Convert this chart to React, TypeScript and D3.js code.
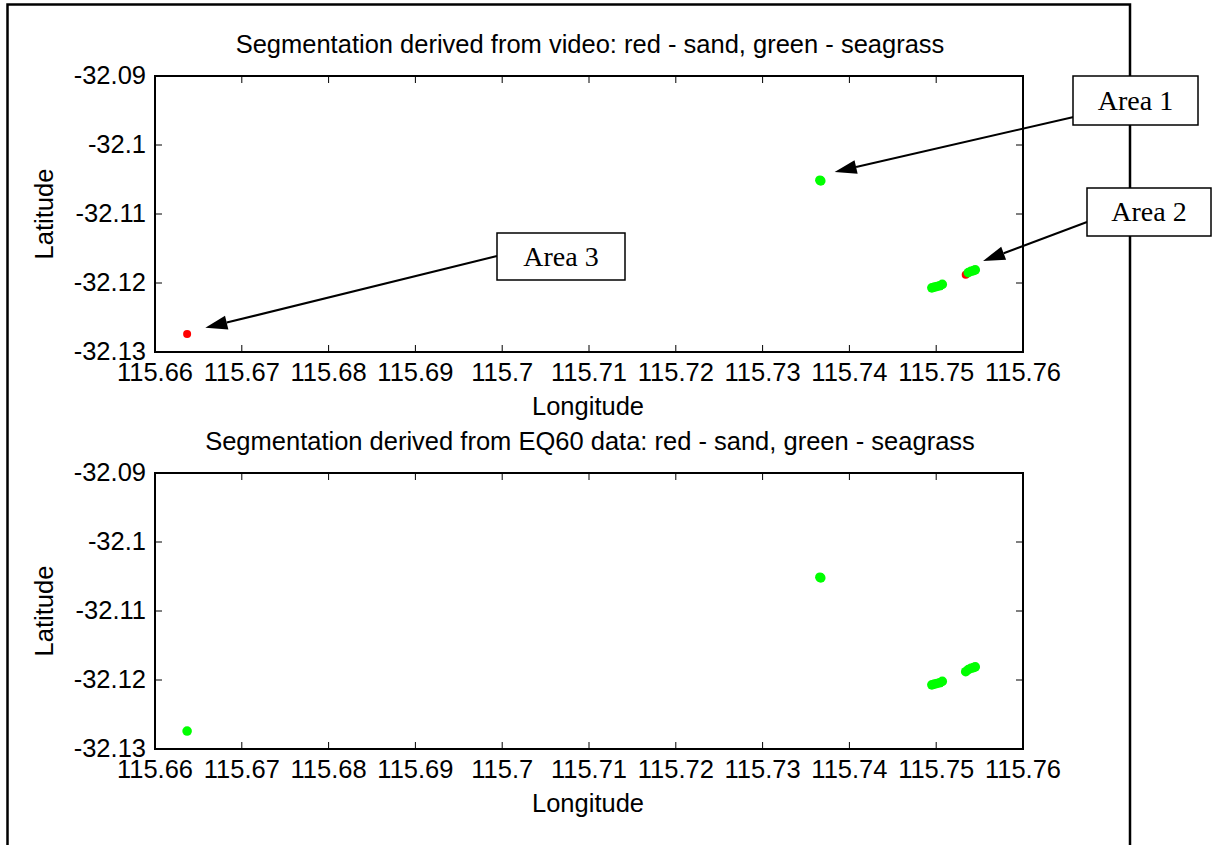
import React from "react";
import * as d3 from "d3";

// Longitude / latitude of classified survey points
const videoSand: [number, number][] = [
  [115.6637, -32.1274],
  [115.7534, -32.1188],
];
const videoSeagrass: [number, number][] = [
  [115.7366, -32.1051],
  [115.7367, -32.1052],
  [115.7495, -32.1207],
  [115.7498, -32.1206],
  [115.7501, -32.1205],
  [115.7504, -32.1204],
  [115.7507, -32.1202],
  [115.7537, -32.1185],
  [115.754, -32.1183],
  [115.7543, -32.1182],
  [115.7545, -32.1181],
];
const eqSand: [number, number][] = [];
const eqSeagrass: [number, number][] = [
  [115.6637, -32.1274],
  [115.7366, -32.1051],
  [115.7367, -32.1052],
  [115.7495, -32.1207],
  [115.7498, -32.1206],
  [115.7501, -32.1205],
  [115.7504, -32.1204],
  [115.7507, -32.1202],
  [115.7534, -32.1188],
  [115.7537, -32.1185],
  [115.754, -32.1183],
  [115.7543, -32.1182],
  [115.7545, -32.1181],
];

const lonTicks = [115.66, 115.67, 115.68, 115.69, 115.7, 115.71, 115.72, 115.73, 115.74, 115.75, 115.76];
const latTicks = [-32.09, -32.1, -32.11, -32.12, -32.13];

const titles = [
  "Segmentation derived from video: red - sand, green - seagrass",
  "Segmentation derived from EQ60 data: red - sand, green - seagrass",
];

// Callouts: label, box (x, y, w, h), tail point, head in data coords
const callouts = [
  { label: "Area 1", box: [1073, 76, 125, 49], tail: [1078, 116], head: [115.7383, -32.1039] },
  { label: "Area 2", box: [1087, 188, 124, 48], tail: [1087, 222], head: [115.7554, -32.1168] },
  { label: "Area 3", box: [497, 233, 128, 47], tail: [497, 256], head: [115.6658, -32.1265] },
];

const W = 1215;
const H = 845;
const left = 155;
const right = 1023;
const panelTops = [76, 473];
const panelH = 276;

const x = d3.scaleLinear().domain([115.66, 115.76]).range([left, right]);

const font = "Arial, 'Liberation Sans', sans-serif";
const tickFont = 25.5;
const labelFont = 25.5;

function Panel({ top, title, sand, grass }: { top: number; title: string; sand: [number, number][]; grass: [number, number][] }) {
  const y = d3.scaleLinear().domain([-32.13, -32.09]).range([top + panelH, top]);
  const bottom = top + panelH;
  const tl = 7;
  return (
    <g>
      <text x={(left + right) / 2 + 1} y={top - 23} textAnchor="middle" fontFamily={font} fontSize={labelFont}>
        {title}
      </text>
      <rect x={left} y={top} width={right - left} height={panelH} fill="white" stroke="none" />
      {lonTicks.map((t) => (
        <g key={"x" + t}>
          <line x1={x(t)} x2={x(t)} y1={bottom} y2={bottom - tl} stroke="#000" strokeWidth={1} />
          <line x1={x(t)} x2={x(t)} y1={top} y2={top + tl} stroke="#000" strokeWidth={1} />
          <text x={x(t)} y={bottom + 29} textAnchor="middle" fontFamily={font} fontSize={tickFont}>
            {String(t)}
          </text>
        </g>
      ))}
      {latTicks.map((t) => (
        <g key={"y" + t}>
          <line x1={left} x2={left + tl} y1={y(t)} y2={y(t)} stroke="#000" strokeWidth={1} />
          <line x1={right} x2={right - tl} y1={y(t)} y2={y(t)} stroke="#000" strokeWidth={1} />
          <text x={left - 9} y={y(t) + 8} textAnchor="end" fontFamily={font} fontSize={tickFont}>
            {String(t)}
          </text>
        </g>
      ))}
      <rect x={left} y={top} width={right - left} height={panelH} fill="none" stroke="#000" strokeWidth={2} />
      {sand.map((d, i) => (
        <circle key={"s" + i} cx={x(d[0])} cy={y(d[1])} r={4} fill="#ff0000" />
      ))}
      {grass.map((d, i) => (
        <circle key={"g" + i} cx={x(d[0])} cy={y(d[1])} r={4.8} fill="#00ff00" />
      ))}
      <text x={(left + right) / 2 - 1} y={bottom + 63} textAnchor="middle" fontFamily={font} fontSize={labelFont}>
        Longitude
      </text>
      <text
        transform={`translate(53, ${top + panelH / 2}) rotate(-90)`}
        textAnchor="middle"
        fontFamily={font}
        fontSize={labelFont}
      >
        Latitude
      </text>
    </g>
  );
}

function Arrow({ x1, y1, x2, y2 }: { x1: number; y1: number; x2: number; y2: number }) {
  const ang = Math.atan2(y2 - y1, x2 - x1);
  const len = 22;
  const half = 7;
  const bx = x2 - len * Math.cos(ang);
  const by = y2 - len * Math.sin(ang);
  const px = -Math.sin(ang) * half;
  const py = Math.cos(ang) * half;
  return (
    <g>
      <line x1={x1} y1={y1} x2={bx} y2={by} stroke="#000" strokeWidth={2} />
      <polygon points={`${x2},${y2} ${bx + px},${by + py} ${bx - px},${by - py}`} fill="#000" />
    </g>
  );
}

export default function App() {
  const yTop = d3.scaleLinear().domain([-32.13, -32.09]).range([panelTops[0] + panelH, panelTops[0]]);
  return (
    <svg width={W} height={H} style={{ position: "absolute", left: 0, top: 0, background: "#fff" }}>
      <rect x={0} y={0} width={W} height={H} fill="#fff" />
      <path d={`M7.5,${H + 5} V4.5 H1130 V${H + 5}`} fill="none" stroke="#000" strokeWidth={2.5} />
      <Panel top={panelTops[0]} title={titles[0]} sand={videoSand} grass={videoSeagrass} />
      <Panel top={panelTops[1]} title={titles[1]} sand={eqSand} grass={eqSeagrass} />
      {callouts.map((c) => (
        <g key={c.label}>
          <Arrow x1={c.tail[0]} y1={c.tail[1]} x2={x(c.head[0])} y2={yTop(c.head[1])} />
          <rect x={c.box[0]} y={c.box[1]} width={c.box[2]} height={c.box[3]} fill="#fff" stroke="#000" strokeWidth={1.5} />
          <text
            x={c.box[0] + c.box[2] / 2}
            y={c.box[1] + c.box[3] / 2 + 9}
            textAnchor="middle"
            fontFamily="'Liberation Serif', 'Times New Roman', serif"
            fontSize={28}
          >
            {c.label}
          </text>
        </g>
      ))}
    </svg>
  );
}
